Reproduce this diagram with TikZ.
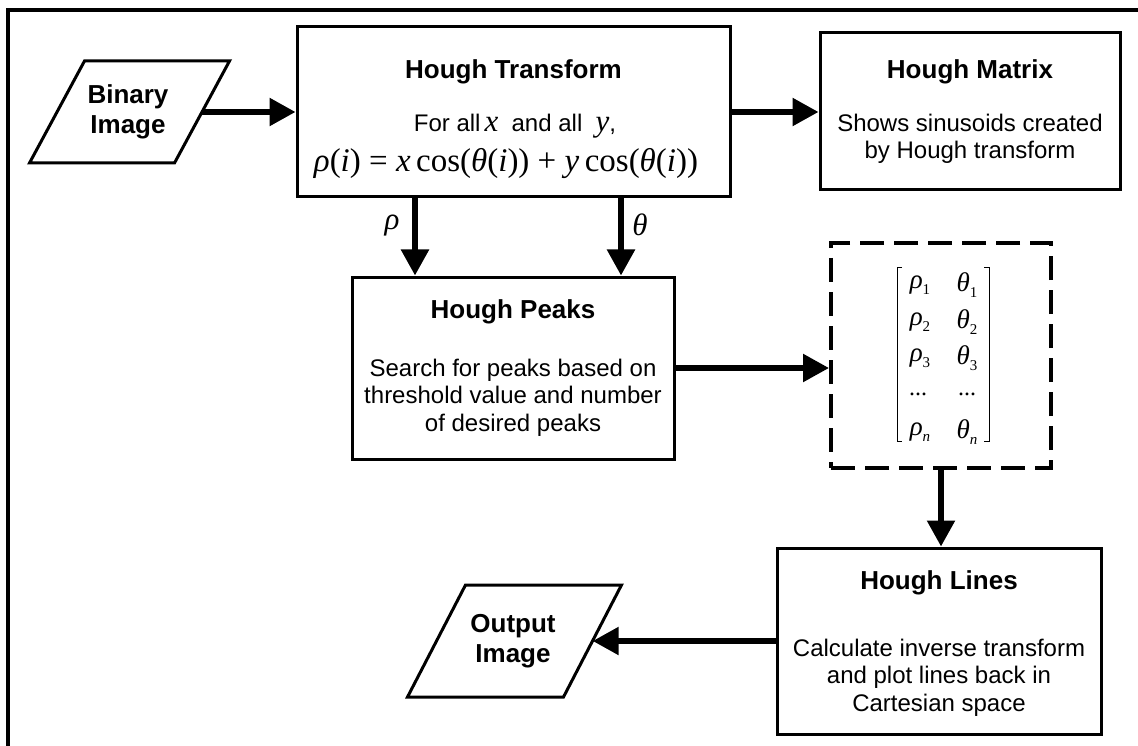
\documentclass[tikz,border=0pt]{standalone}
\usepackage{fontspec}
\setmainfont{Liberation Sans}
\newfontfamily\tms{Liberation Serif}
\usetikzlibrary{arrows.meta,calc}

% text sizes (1pt = one unit of the drawing)
\newcommand\hdfont{\fontsize{26}{30}\selectfont\bfseries}
\newcommand\txfont{\fontsize{24}{27.5}\selectfont}
\newcommand\mafont{\tms\fontsize{33}{36}\selectfont}
% italic serif variable
\newcommand\vx[1]{{\tms\itshape\fontsize{31}{33}\selectfont #1}}
% matrix entry with subscript
\newcommand\msub[2]{{\tms\itshape\fontsize{27}{28}\selectfont #1}\raisebox{-6pt}{\tms\fontsize{15}{16}\selectfont #2}}

\begin{document}
\begin{tikzpicture}[x=1pt,y=-1pt,
  box/.style={draw, line width=3pt, inner sep=0pt},
  ghost/.style={inner sep=0pt},
  pline/.style={line width=3pt, line join=miter},
  arr/.style={line width=5.5pt, -{Triangle[length=26pt,width=27pt]}},
  frameline/.style={line width=4pt}]

\useasboundingbox (0,0) rectangle (1138,746);
\fill[white] (0,0) rectangle (1138,746);

% outer frame
\draw[frameline] (1138,10) -- (8,10) -- (8,746);

% process boxes
\node[box, minimum width=433pt, minimum height=170pt] (ht) at (513.5,112) {};
\node[box, minimum width=300pt, minimum height=157pt] (hm) at (970,111.5) {};
\node[box, minimum width=322pt, minimum height=182pt] (hp) at (513,368) {};
\node[draw, line width=4pt, dash pattern=on 24pt off 10pt, inner sep=0pt,
      minimum width=220pt, minimum height=225pt] (vec) at (941,355.5) {};
\node[box, minimum width=324pt, minimum height=186pt] (hl) at (939,641) {};

% input / output parallelograms
\node[ghost, minimum width=145pt, minimum height=102pt] (bin) at (129.5,112) {};
\draw[pline] ($(bin.center)+(-45,-51)$) -- ++(145,0) -- ++(-55,102) -- ++(-145,0) -- cycle;
\node[ghost, minimum width=156pt, minimum height=112pt] (out) at (514.5,641) {};
\draw[pline] ($(out.center)+(-49,-56)$) -- ++(156,0) -- ++(-58,112) -- ++(-156,0) -- cycle;

% texts
\node[font=\hdfont, align=center] (bintxt) at (128,112) {Binary\\Image};
\node[font=\hdfont, align=center] (outtxt) at (513,641) {Output\\Image};

\node[font=\hdfont] (httl) at (513.5,72) {Hough Transform};
\node[font=\txfont] (htl1) at (515,126) {For all\,\vx{x}\ \ and all\ \ \vx{y},};
\node[font=\mafont] (heq) at (506,164)
  {\textit{ρ}(\textit{i}) = \textit{x}\,cos(\textit{θ}(\textit{i})) + \textit{y}\,cos(\textit{θ}(\textit{i}))};

\node[font=\hdfont] (hmttl) at (970,72) {Hough Matrix};
\node[font=\txfont, align=center] (hmtxt) at (970,139)
  {Shows sinusoids created\\by Hough transform};

\node[font=\hdfont] (hpttl) at (513,312) {Hough Peaks};
\node[font=\txfont, align=center] (hptxt) at (513,397.5)
  {Search for peaks based on\\threshold value and number\\of desired peaks};

\node[font=\hdfont] (hlttl) at (939,583) {Hough Lines};
\node[font=\txfont, align=center] (hltxt) at (939,677.5)
  {Calculate inverse transform\\and plot lines back in\\Cartesian space};

% peak list
\draw[line width=1pt] (902,267) -- (897,267) -- (897,441) -- (902,441);
\draw[line width=1pt] (984,267) -- (989,267) -- (989,441) -- (984,441);
\node (p1) at (920,285) {\msub{ρ}{1}};
\node (t1) at (967,285) {\msub{θ}{1}};
\node (p2) at (920,322) {\msub{ρ}{2}};
\node (t2) at (967,322) {\msub{θ}{2}};
\node (p3) at (920,358) {\msub{ρ}{3}};
\node (t3) at (967,358) {\msub{θ}{3}};
\node[font=\tms\fontsize{24}{26}\selectfont] (pd) at (918,394) {...};
\node[font=\tms\fontsize{24}{26}\selectfont] (td) at (967,394) {...};
\node (pn) at (920,432) {\msub{ρ}{\itshape n}};
\node (tn) at (967,432) {\msub{θ}{\itshape n}};

% connectors
\draw[arr] (bin.east) -- (bin.east -| ht.west);
\draw[arr] (ht.east) -- (ht.east -| hm.west);
\coordinate (rs) at ([xshift=-98.5pt]ht.south);
\coordinate (ts) at ([xshift=107.5pt]ht.south);
\draw[arr] (rs) -- (rs |- hp.north);
\draw[arr] (ts) -- (ts |- hp.north);
\node (lrho) at (392,226) {\vx{ρ}};
\node (ltheta) at (640,225) {\vx{θ}};
\draw[arr] (hp.east) -- (hp.east -| vec.west);
\draw[arr] (vec.south) -- (vec.south |- hl.north);
\draw[arr] (hl.west) -- (hl.west -| out.east);
\end{tikzpicture}
\end{document}
